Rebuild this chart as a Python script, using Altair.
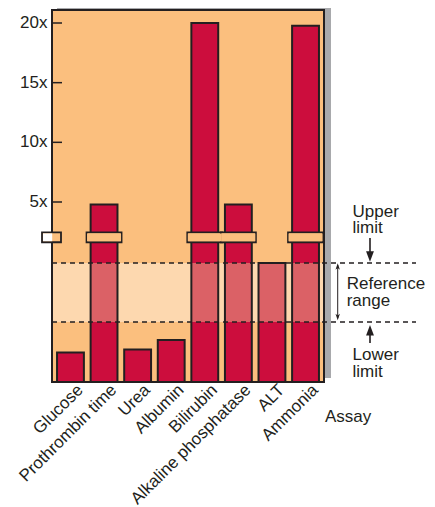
import altair as alt
import pandas as pd

# ---- data ----
assays = ["Glucose", "Prothrombin time", "Urea", "Albumin", "Bilirubin",
          "Alkaline phosphatase", "ALT", "Ammonia"]
values = [0.245, 4.83, 0.27, 0.35, 20.0, 4.83, 1.0, 19.77]
broken_assays = ["Prothrombin time", "Bilirubin", "Alkaline phosphatase", "Ammonia"]
tick_values = [5, 10, 15, 20]
tick_labels = ["5x", "10x", "15x", "20x"]
lower_limit = 0.5
upper_limit = 1.0
break_lo = 2.36
break_hi = 3.01

# ---- scale / layout constants ----
W, H = 272, 372
Y_DOMAIN = [0, lower_limit, upper_limit, 5, 20]
Y_RANGE = [372, 312, 253, 192, 13]
FONT = "Liberation Sans"
FS = 17
INK = "#231F20"
ORANGE = "#FBBF7E"
LIGHT = "#FDD8AF"
CRIMSON = "#CC0D3D"
PINK = "#DB6166"
GRAY = "#A8A9AC"

df = pd.DataFrame({"assay": assays, "value": values})
seg = df[df["value"] > lower_limit].copy()
seg["lo"] = lower_limit
seg["hi"] = seg["value"].clip(upper=upper_limit)
brk = pd.DataFrame({"assay": broken_assays})
brk["lo"] = break_lo
brk["hi"] = break_hi
brk["lo_in"] = break_lo + 0.07
brk["hi_in"] = break_hi - 0.07
ticks_df = pd.DataFrame({"t": tick_values, "lab": tick_labels})
limits_df = pd.DataFrame({"lim": [lower_limit, upper_limit]})
one = pd.DataFrame({"k": [0]})

yscale = alt.Scale(domain=Y_DOMAIN, range=Y_RANGE, nice=False, zero=False)
xscale = alt.Scale(domain=assays, paddingInner=0.2, paddingOuter=0.15)


def X(**kw):
    return alt.X("assay:N", scale=xscale, sort=assays, axis=None, **kw)


def Yq(field):
    return alt.Y(field, scale=yscale, axis=None)


def rect_px(x0, x1, y0, y1, **mk):
    return alt.Chart(one).mark_rect(**mk).encode(
        x=alt.value(x0), x2=alt.value(x1), y=alt.value(y0), y2=alt.value(y1))


shadow = rect_px(5, 279, -6, 368, fill=GRAY)
bg = rect_px(0, W, 0, H, fill=ORANGE)

band = alt.Chart(one).mark_rect(fill=LIGHT).encode(
    x=alt.value(0), x2=alt.value(W),
    y=alt.Y(datum=upper_limit, scale=yscale, axis=None), y2=alt.Y2(datum=lower_limit))

bars = alt.Chart(df).mark_bar(fill=CRIMSON, strokeWidth=0).encode(
    x=X(), y=Yq("value:Q"))

pink = alt.Chart(seg).mark_bar(fill=PINK, strokeWidth=0).encode(
    x=X(), y=Yq("hi:Q"), y2="lo:Q")

outline = alt.Chart(df).mark_bar(fillOpacity=0, stroke=INK, strokeWidth=2).encode(
    x=X(), y=Yq("value:Q"))

frame = rect_px(0, W, 0, H, fillOpacity=0, stroke=INK, strokeWidth=2)

brk_outer = alt.Chart(brk).mark_bar(size=35, fill=ORANGE, stroke=INK, strokeWidth=1.8).encode(
    x=X(), y=Yq("hi:Q"), y2="lo:Q")
brk_inner = alt.Chart(brk).mark_bar(size=34, fill=ORANGE, strokeWidth=0).encode(
    x=X(), y=Yq("hi_in:Q"), y2="lo_in:Q")

axis_brk = alt.Chart(one).mark_rect(fill=ORANGE, stroke=INK, strokeWidth=1.8).encode(
    x=alt.value(-10), x2=alt.value(9),
    y=alt.Y(datum=break_hi, scale=yscale, axis=None), y2=alt.Y2(datum=break_lo))
axis_brk_white = alt.Chart(one).mark_rect(fill="white").encode(
    x=alt.value(-9), x2=alt.value(0.2),
    y=alt.Y(datum=break_hi - 0.07, scale=yscale, axis=None), y2=alt.Y2(datum=break_lo + 0.07))

dashes = alt.Chart(limits_df).mark_rule(color=INK, strokeWidth=1.3, strokeDash=[5, 4]).encode(
    x=alt.value(0), x2=alt.value(364), y=Yq("lim:Q"))

yticks = alt.Chart(ticks_df).mark_rule(color=INK, strokeWidth=1.5).encode(
    x=alt.value(0), x2=alt.value(10), y=Yq("t:Q"))

ylabels = alt.Chart(ticks_df).mark_text(align="right", baseline="middle", font=FONT,
                                        fontSize=FS, color=INK).encode(
    x=alt.value(-4.5), y=Yq("t:Q"), text="lab:N")

xlabels = alt.Chart(df).mark_text(align="right", baseline="alphabetic", angle=315,
                                  font=FONT, fontSize=FS, color=INK).encode(
    x=X(bandPosition=1.0), y=alt.value(381), text="assay:N")


def label(lines, x0, y0):
    return alt.Chart(one).mark_text(text=lines, align="left", baseline="alphabetic",
                                    font=FONT, fontSize=FS, color=INK, lineHeight=16.6).encode(
        x=alt.value(x0), y=alt.value(y0))


t_assay = label("Assay", 273, 412)
t_upper = label(["Upper", "limit"], 300.5, 206.7)
t_ref = label(["Reference", "range"], 294.7, 279)
t_lower = label(["Lower", "limit"], 300.5, 350)

# arrows
ARROW_DOWN = "M-0.75,-1L0.75,-1L0,1Z"
ARROW_UP = "M-0.75,1L0.75,1L0,-1Z"
THIN_UP = "M-0.7,1L0,-1L0.7,1L0,0.45Z"
THIN_DOWN = "M-0.7,-1L0,1L0.7,-1L0,-0.45Z"

a_down_line = rect_px(317.2, 318.8, 228, 244, fill=INK)
a_down_head = alt.Chart(one).mark_point(shape=ARROW_DOWN, size=110, filled=True, color=INK, opacity=1).encode(
    x=alt.value(318), y=alt.value(246.5))
a_up_line = rect_px(317.2, 318.8, 322, 333, fill=INK)
a_up_head = alt.Chart(one).mark_point(shape=ARROW_UP, size=110, filled=True, color=INK, opacity=1).encode(
    x=alt.value(318), y=alt.value(320.2))
d_line = rect_px(285.2, 286.2, 255, 308, fill=INK)
d_head_top = alt.Chart(one).mark_point(shape=THIN_UP, size=40, filled=True, color=INK, opacity=1).encode(
    x=alt.value(285.7), y=alt.value(256.5))
d_head_bot = alt.Chart(one).mark_point(shape=THIN_DOWN, size=40, filled=True, color=INK, opacity=1).encode(
    x=alt.value(285.7), y=alt.value(307))

chart = alt.layer(
    shadow, bg, band, bars, pink, outline, frame, brk_outer, brk_inner,
    axis_brk, axis_brk_white, dashes, yticks, ylabels, xlabels,
    t_assay, t_upper, t_ref, t_lower,
    a_down_line, a_down_head, a_up_line, a_up_head, d_line, d_head_top, d_head_bot,
).properties(
    width=W, height=H,
    autosize=alt.AutoSizeParams(type="none"),
    padding={"left": 44, "top": 2, "right": 103, "bottom": 124},
    background="white",
).configure_view(strokeWidth=0)

chart.save("out.html", embed_options={"renderer": "svg", "actions": False})
